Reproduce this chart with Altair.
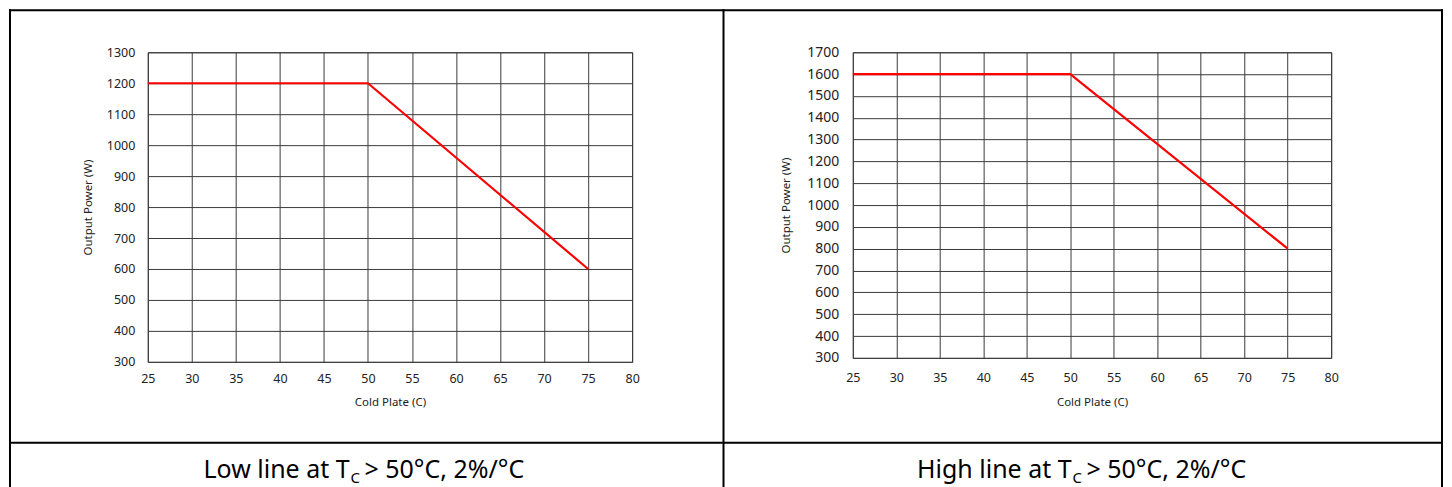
import altair as alt
import pandas as pd

# ---------------- data ----------------
cold_plate = [25, 50, 75]
low_line_power = [1200, 1200, 600]
high_line_power = [1600, 1600, 800]
x_ticks = [25, 30, 35, 40, 45, 50, 55, 60, 65, 70, 75, 80]
low_y_ticks = [300, 400, 500, 600, 700, 800, 900, 1000, 1100, 1200, 1300]
high_y_ticks = [300, 400, 500, 600, 700, 800, 900, 1000, 1100, 1200,
                1300, 1400, 1500, 1600, 1700]
x_title = "Cold Plate (C)"
y_title = "Output Power (W)"
caption_heads = ["Low line at T", "High line at T"]
caption_sub = "C"
caption_tail = "> 50°C, 2%/°C"

# ---------------- style ----------------
FONT = "Noto Sans"
GRID = "#3a3a3a"
LABEL = "#222222"
RED = "#ff0000"

dummy = pd.DataFrame({"d": [0]})


def panel(values, yticks, w, h, ylab_size, ylab_pad, xlab_pad, ytitle_x, xtitle_y):
    df = pd.DataFrame({"t": cold_plate, "p": values})
    return alt.Chart(df).mark_line(color=RED, strokeWidth=2.2).encode(
        x=alt.X(
            "t:Q",
            scale=alt.Scale(domain=[x_ticks[0], x_ticks[-1]], nice=False, zero=False),
            axis=alt.Axis(
                values=x_ticks, format="d", title=x_title, grid=True, gridColor=GRID,
                gridOpacity=1, gridWidth=1, domain=False, ticks=False,
                labelFont=FONT, labelFontSize=12.5, labelColor=LABEL,
                labelPadding=xlab_pad, labelFlush=False, labelOverlap=False,
                titleFont=FONT, titleFontSize=11.5, titleFontWeight="normal",
                titleColor=LABEL, titleX=w / 2, titleY=xtitle_y,
                titleAlign="center", titleBaseline="middle",
            ),
        ),
        y=alt.Y(
            "p:Q",
            scale=alt.Scale(domain=[yticks[0], yticks[-1]], nice=False, zero=False),
            axis=alt.Axis(
                values=yticks, format="d", title=y_title, grid=True, gridColor=GRID,
                gridOpacity=1, gridWidth=1, domain=False, ticks=False,
                labelFont=FONT, labelFontSize=ylab_size, labelColor=LABEL,
                labelPadding=ylab_pad, labelFlush=False, labelOverlap=False,
                titleFont=FONT, titleFontSize=11.5, titleFontWeight="normal",
                titleColor=LABEL, titleX=ytitle_x, titleY=h / 2,
                titleAngle=270, titleAlign="center", titleBaseline="middle",
            ),
        ),
    ).properties(width=w, height=h)


def bar(x1, x2, y1, y2):
    # solid table-border segment drawn as a filled rectangle
    return alt.Chart(dummy).mark_rect(color="black", strokeWidth=0).encode(
        x=alt.value(x1), x2=alt.value(x2), y=alt.value(y1), y2=alt.value(y2))


def text(x, y, s, size, align):
    return alt.Chart(dummy).mark_text(
        font=FONT, fontSize=size, color="black", align=align, baseline="alphabetic"
    ).encode(x=alt.value(x), y=alt.value(y), text=alt.value(s))


# table frame, relative to left plot origin (left plot at page x=147, y=51)
L, R = -139, 1295
MID = 575.5
TOP, DIV, BOT = -43, 390, 436

frame = [
    bar(L, R + 2, TOP, TOP + 2),
    bar(L, R + 2, DIV, DIV + 2),
    bar(L, L + 2, TOP, BOT),
    bar(MID, MID + 2, TOP, BOT),
    bar(R, R + 2, TOP, BOT),
]

base_y = 426
captions = [
    text(202, base_y, caption_heads[0], 25, "right"),
    text(203, base_y + 5, caption_sub, 15, "left"),
    text(217, base_y, caption_tail, 25, "left"),
    text(925, base_y, caption_heads[1], 25, "right"),
    text(926, base_y + 5, caption_sub, 15, "left"),
    text(940, base_y, caption_tail, 25, "left"),
]

left = alt.layer(
    panel(low_line_power, low_y_ticks, 485, 310, 12.5, 13, 11, -59, 41),
    *frame, *captions,
)
right = panel(high_line_power, high_y_ticks, 479, 306, 14, 14, 14, -66, 45)

chart = alt.hconcat(left, right, spacing=221, bounds="flush").properties(
    padding=0
).configure_view(stroke=GRID, strokeWidth=1)

chart.save("out.html", embed_options={"renderer": "svg", "actions": False})
